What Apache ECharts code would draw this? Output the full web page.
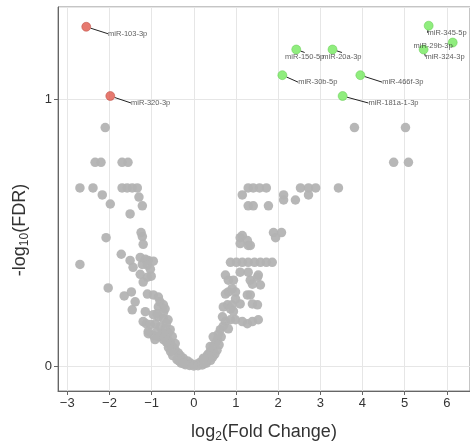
<!DOCTYPE html>
<html>
<head>
<meta charset="utf-8">
<script src="https://cdn.jsdelivr.net/npm/echarts@6/dist/echarts.min.js"></script>
<style>
  html, body { margin: 0; padding: 0; background: #fff; }
  #chart { width: 470px; height: 448px; }
</style>
</head>
<body>
<div id="chart"></div>
<script>
// not significant miRNAs: [log2FC, -log10 FDR]
var grayPoints = [
  [-2.10,0.893],[3.81,0.893],[5.02,0.893],
  [-2.34,0.763],[-2.20,0.763],[-1.70,0.763],[-1.56,0.763],[4.74,0.763],[5.09,0.763],
  [-2.70,0.667],[-2.39,0.667],[-1.70,0.667],[-1.58,0.667],[-1.46,0.667],[-1.34,0.667],
  [1.29,0.667],[1.41,0.667],[1.56,0.667],[1.72,0.667],[2.53,0.667],[2.72,0.667],[2.89,0.667],[3.43,0.667],
  [-2.17,0.641],[-1.30,0.633],[-1.98,0.607],[-1.22,0.600],[-1.51,0.570],
  [1.15,0.641],[2.13,0.641],[2.72,0.641],[2.13,0.622],[2.41,0.622],
  [1.29,0.600],[1.41,0.600],[1.77,0.600],
  [-2.08,0.481],[-1.25,0.500],[-1.22,0.485],[-1.20,0.456],
  [-2.70,0.381],[-1.72,0.419],[-1.51,0.396],[-1.44,0.370],
  [-1.27,0.407],[-1.15,0.400],[-1.08,0.396],[-0.96,0.393],
  [-1.22,0.381],[-1.10,0.378],[-1.03,0.363],
  [-1.27,0.344],[-1.20,0.315],[-1.10,0.333],[-1.01,0.337],
  [-2.03,0.293],
  [-1.65,0.263],[-1.48,0.278],[-1.39,0.241],[-1.46,0.211],[-1.15,0.204],
  [-1.10,0.270],[-0.96,0.267],[-0.84,0.259],[-0.80,0.241],[-0.72,0.230],[-0.84,0.222],[-0.68,0.215],
  [-1.20,0.167],[-1.13,0.159],[-1.03,0.156],[-0.91,0.159],[-0.80,0.148],[-0.68,0.141],[-0.56,0.137],
  [-0.96,0.193],[-0.84,0.185],[-0.72,0.178],[-0.61,0.174],[-0.87,0.196],
  [-1.08,0.122],[-0.96,0.115],[-0.80,0.111],[-0.63,0.100],[-0.51,0.111],[-0.44,0.085],
  [-1.08,0.130],[-0.84,0.111],[-0.72,0.100],[-0.61,0.085],
  [-0.72,0.200],[-0.65,0.160],[-0.61,0.125],[-0.56,0.090],[-0.49,0.070],[-0.44,0.060],[-0.37,0.050],
  [-0.32,0.040],[-0.25,0.030],[-0.15,0.020],[-0.08,0.012],[-0.01,0.006],[0.08,0.008],[0.15,0.015],
  [0.23,0.025],[0.32,0.040],[0.39,0.055],[0.46,0.075],[0.56,0.100],
  [-0.40,0.025],[-0.30,0.012],[-0.20,0.006],[-0.10,0.003],[0.00,0.001],[0.10,0.002],[0.20,0.005],
  [0.30,0.012],[0.40,0.022],[0.50,0.045],
  [-0.50,0.040],[-0.35,0.020],[0.45,0.035],[0.55,0.060],[0.35,0.030],[-0.25,0.010],[0.25,0.010],
  [-0.55,0.055],[0.60,0.080],[-0.60,0.070],[0.65,0.110],[-0.65,0.090],
  [-0.70,0.110],[-0.75,0.125],[-0.88,0.130],[-0.92,0.100],
  [0.68,0.185],[0.75,0.167],[0.87,0.174],[0.99,0.174],[1.15,0.167],[1.27,0.159],[1.39,0.167],[1.53,0.174],
  [0.63,0.137],[0.58,0.120],[0.51,0.085],[0.44,0.060],[0.34,0.045],[0.23,0.030],[0.39,0.074],
  [0.70,0.150],[0.82,0.140],[0.46,0.110],
  [0.80,0.230],[0.91,0.230],[1.10,0.233],[1.27,0.267],[1.39,0.233],[1.51,0.230],
  [0.82,0.278],[0.99,0.278],[0.75,0.270],[0.91,0.290],[0.99,0.252],[1.34,0.267],
  [0.75,0.341],[0.82,0.322],[1.29,0.352],[1.53,0.341],[1.34,0.322],[1.58,0.304],
  [0.94,0.322],[1.10,0.352],[1.39,0.307],[1.51,0.333],
  [0.70,0.222],[0.87,0.215],[0.94,0.205],
  [0.87,0.389],[1.01,0.389],[1.15,0.389],[1.29,0.389],[1.44,0.389],[1.58,0.389],[1.72,0.389],[1.86,0.389],
  [1.10,0.481],[1.29,0.452],[1.15,0.489],[1.27,0.470],[1.10,0.459],[1.34,0.452],
  [1.89,0.500],[2.08,0.500],[1.94,0.481]
];

// significant, down-regulated (red)
var downNames = ['miR-103-3p', 'miR-320-3p'];
var downFC = [-2.55, -1.98];
var downP = [1.27, 1.011];

// significant, up-regulated (green)
var upNames = ['miR-150-5p', 'miR-20a-3p', 'miR-30b-5p', 'miR-466f-3p', 'miR-181a-1-3p',
               'miR-345-5p', 'miR-29b-3p', 'miR-324-3p'];
var upFC = [2.43, 3.29, 2.10, 3.95, 3.53, 5.57, 6.14, 5.45];
var upP = [1.185, 1.185, 1.089, 1.089, 1.011, 1.274, 1.211, 1.185];

// label nudges in pixels (like ggrepel)
var downNudge = [[17, 7], [16, 7]];
var upNudge = [[-16, 7], [-15, 7], [11, 7], [17, 7], [21, 7], [-6, 7], [-44, 3], [-3, 7]];

var font = 'Liberation Sans, Arial, sans-serif';

function pairs(names, xs, ys) {
  return names.map(function (n, i) { return { name: n, value: [xs[i], ys[i]] }; });
}

function minus(v) { return String(v).replace('-', '\u2212'); }

var labelStyle = {
  show: true,
  position: 'right',
  distance: 0,
  formatter: '{b}',
  fontSize: 7.5,
  fontFamily: font,
  color: '#333'
};

var myChart = echarts.init(document.getElementById('chart'));
var option = {
  animation: false,
  grid: {
    left: 58, right: 0, top: 7, bottom: 53,
    show: true, borderColor: '#8a8a8a', borderWidth: 1
  },
  xAxis: {
    type: 'value',
    min: -3.22,
    max: 6.55,
    splitNumber: 10,
    name: 'log{sub|2}(Fold Change)',
    nameLocation: 'middle',
    nameGap: 31,
    nameTextStyle: {
      fontSize: 18, fontFamily: font, color: '#333',
      rich: { sub: { fontSize: 12, fontFamily: font, color: '#333', padding: [9, 0, 0, 0] } }
    },
    axisLine: { show: true, onZero: false, lineStyle: { color: '#666' } },
    axisTick: { show: true, length: 4, lineStyle: { color: '#666' } },
    axisLabel: {
      showMinLabel: false, showMaxLabel: false,
      fontSize: 13, fontFamily: font, color: '#333', margin: 6,
      formatter: minus
    },
    splitLine: { show: true, lineStyle: { color: '#e6e6e6' } }
  },
  yAxis: {
    type: 'value',
    min: -0.0926,
    max: 1.344,
    splitNumber: 1,
    name: '-log{sub|10}(FDR)',
    nameLocation: 'middle',
    nameRotate: 90,
    nameGap: 27,
    nameTextStyle: {
      fontSize: 18, fontFamily: font, color: '#333',
      padding: [0, 62, 0, 0],
      rich: { sub: { fontSize: 12, fontFamily: font, color: '#333', padding: [9, 0, 0, 0] } }
    },
    axisLine: { show: true, onZero: false, lineStyle: { color: '#666' } },
    axisTick: { show: true, length: 4, lineStyle: { color: '#666' } },
    axisLabel: {
      showMinLabel: false, showMaxLabel: false,
      fontSize: 13, fontFamily: font, color: '#333', margin: 6
    },
    splitLine: { show: true, lineStyle: { color: '#e6e6e6' } }
  },
  series: [
    {
      name: 'ns',
      type: 'scatter',
      symbolSize: 9.5,
      itemStyle: { color: '#b3b3b3', opacity: 0.95 },
      data: grayPoints,
      z: 2
    },
    {
      name: 'down',
      type: 'scatter',
      symbolSize: 9,
      itemStyle: { color: '#e0584b', borderColor: '#b8463c', borderWidth: 0.6 },
      data: pairs(downNames, downFC, downP),
      label: labelStyle,
      labelLine: { show: true, lineStyle: { color: '#222', width: 1 } },
      labelLayout: function (params) {
        return { dx: downNudge[params.dataIndex][0], dy: downNudge[params.dataIndex][1] };
      },
      z: 3
    },
    {
      name: 'up',
      type: 'scatter',
      symbolSize: 9,
      itemStyle: { color: '#74e85e', borderColor: '#5cc94a', borderWidth: 0.6 },
      data: pairs(upNames, upFC, upP),
      label: labelStyle,
      labelLine: { show: true, lineStyle: { color: '#222', width: 1 } },
      labelLayout: function (params) {
        return { dx: upNudge[params.dataIndex][0], dy: upNudge[params.dataIndex][1] };
      },
      z: 3
    }
  ]
};
myChart.setOption(option);
</script>
</body>
</html>
